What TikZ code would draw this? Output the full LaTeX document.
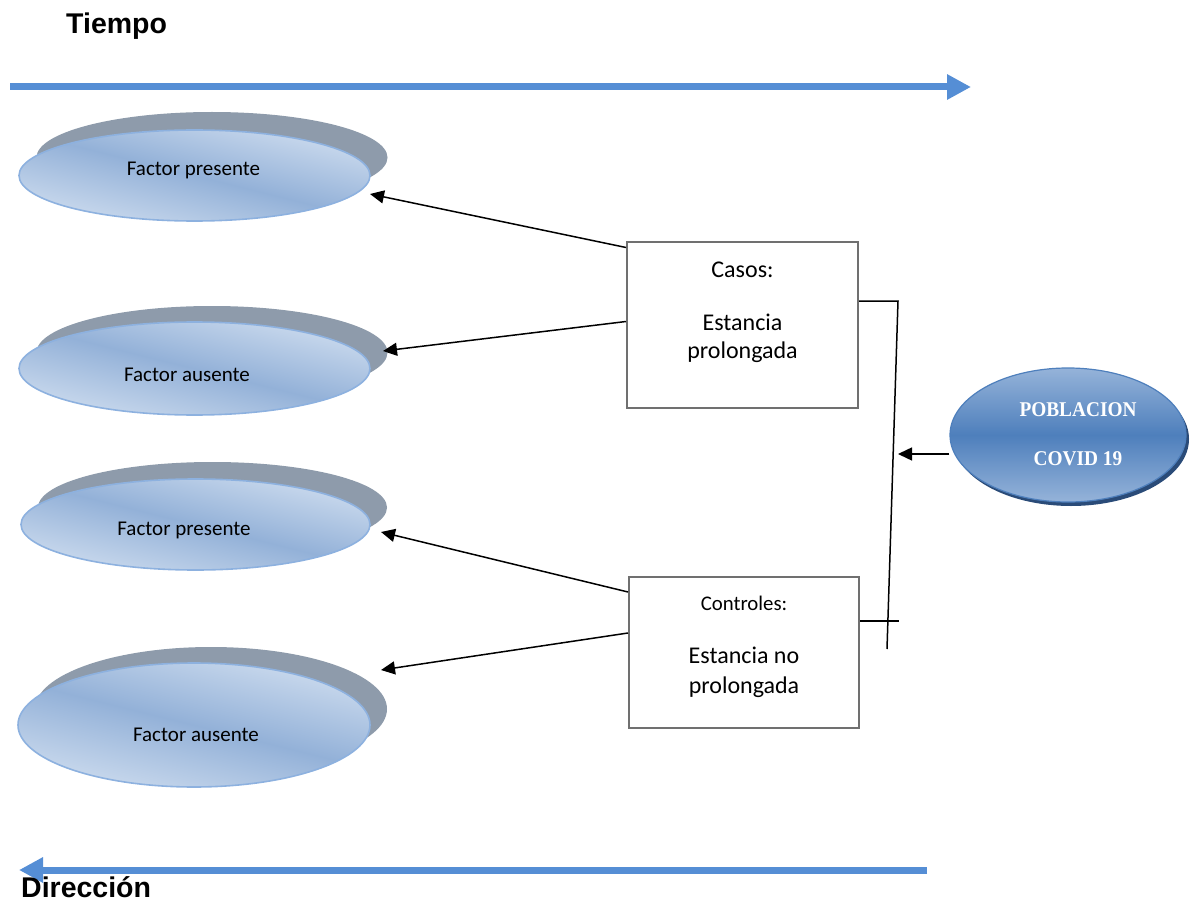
\documentclass[tikz,border=0pt]{standalone}
\usepackage{fontspec}
\setmainfont{Carlito}
\newfontfamily\arialbold{Liberation Sans}[BoldFont=* Bold]
\newfontfamily\serifbold{Liberation Serif}[BoldFont=* Bold, FakeStretch=0.92]
\usetikzlibrary{arrows.meta,shapes.geometric,calc}
\definecolor{arrowblue}{HTML}{558ED5}
\definecolor{shadowgray}{HTML}{8E9BAB}
\definecolor{ellLight}{HTML}{CCDBEE}
\definecolor{ellMid}{HTML}{93B1D8}
\definecolor{ellBorder}{HTML}{8DB1DF}
\definecolor{boxgray}{HTML}{707070}
\definecolor{popLight}{HTML}{95B3D9}
\definecolor{popMid}{HTML}{4E7FBC}
\definecolor{popDark}{HTML}{2A4B78}
\tikzset{
  timearrow/.style={draw=arrowblue, line width=7pt, -{Triangle[length=24pt,width=24pt]}},
  frontell/.style={ellipse, draw=ellBorder, line width=1.6pt, inner sep=0pt,
     top color=ellLight, bottom color=ellLight, middle color=ellMid, shading angle=-14},
  shadowell/.style={ellipse, fill=shadowgray, draw=none, inner sep=0pt},
  ftext/.style={font=\fontsize{21}{25}\selectfont, inner sep=0pt},
  btext/.style={font=\fontsize{24}{30}\selectfont, inner sep=0pt},
  grpbox/.style={draw=boxgray, line width=2pt, fill=white, inner sep=0pt},
  conn/.style={draw=black, line width=1.5pt, -{Triangle[length=14pt,width=13pt]}},
  plainline/.style={draw=black, line width=1.5pt},
  title/.style={font=\arialbold\bfseries\fontsize{28.5}{32}\selectfont, inner sep=0pt, anchor=base west},
  poptext/.style={font=\serifbold\bfseries\fontsize{21}{24}\selectfont, text=white, inner sep=0pt}
}
\begin{document}
\begin{tikzpicture}[x=1pt,y=-1pt]
\useasboundingbox (0,0) rectangle (1192,904);

% titles and time arrows
\node[title] (tiempo) at (66,34) {Tiempo};
\coordinate (tA) at (10,87);
\coordinate (tB) at (971,87);
\draw[timearrow] (tA) -- (tB);
\coordinate (dA) at (927,870);
\coordinate (dB) at (19,870);
\draw[timearrow] (dA) -- (dB);
\node[title] (direccion) at (21,897) {Dirección};

% ellipses: shadows first
\node[shadowell, minimum width=351pt, minimum height=91pt] (s1) at (212,157.5) {};
\node[frontell, minimum width=351pt, minimum height=91pt] (e1) at (194.5,175.5) {};
\node[ftext] (l1) at (193.5,170) {Factor presente};

\node[shadowell, minimum width=351pt, minimum height=93pt] (s2) at (212,352.5) {};
\node[frontell, minimum width=351pt, minimum height=93pt] (e2) at (194.5,368.5) {};
\node[ftext] (l2) at (187,375) {Factor ausente};

\node[shadowell, minimum width=349pt, minimum height=91pt] (s3) at (212.5,507.5) {};
\node[frontell, minimum width=349pt, minimum height=91pt] (e3) at (195.5,524.5) {};
\node[ftext] (l3) at (184,530) {Factor presente};

\node[shadowell, minimum width=352pt, minimum height=124pt] (s4) at (211,709) {};
\node[frontell, minimum width=352pt, minimum height=124pt] (e4) at (194,725) {};
\node[ftext] (l4) at (196,735) {Factor ausente};

% boxes
\node[grpbox, minimum width=231pt, minimum height=165pt] (casos) at (742.5,325) {};
\node[btext] (casosT) at (742.5,270) {Casos:};
\node[btext] (casosE) at (742.5,322) {Estancia};
\node[btext] (casosP) at (742.5,352) {prolongada};

\node[grpbox, minimum width=230pt, minimum height=151pt] (contr) at (744,652.5) {};
\node[font=\fontsize{20.8}{25}\selectfont, inner sep=0pt] (contrT) at (744,603) {Controles:};
\node[btext] (contrE) at (744,655) {Estancia no};
\node[btext] (contrP) at (744,687) {prolongada};

% arrows to ellipses
\coordinate (t1) at (370,194);
\coordinate (t2) at (383,351);
\coordinate (t3) at (381,532);
\coordinate (t4) at (381,670);
\draw[conn] ($(casos.north west)+(0,6)$) -- (t1);
\draw[conn] ($(casos.north west)+(0,80)$) -- (t2);
\draw[conn] ($(contr.north west)+(0,16)$) -- (t3);
\draw[conn] ($(contr.north west)+(0,57)$) -- (t4);

% bracket
\coordinate (brTop) at (898,301);
\coordinate (brBot) at (887,649);
\coordinate (brCross) at (899,621);
\coordinate (brHit) at (898,454);
\draw[plainline] (casos.east |- brTop) -- (brTop) -- (brBot);
\draw[plainline] (contr.east |- brCross) -- (brCross);

% poblacion
\node[ellipse, fill=popDark, draw=none, minimum width=236pt, minimum height=134pt, inner sep=0pt] (popS) at (1071,439) {};
\node[ellipse, draw=popMid, line width=1.2pt, inner sep=0pt, minimum width=236pt, minimum height=134pt,
      top color=popLight, bottom color=popLight, middle color=popMid] (pop) at (1068,435) {};
\node[poptext] (popA) at (1078,410) {POBLACION};
\node[poptext] (popB) at (1078,459) {COVID 19};
\draw[conn] (pop.west |- brHit) -- (brHit);
\end{tikzpicture}
\end{document}
